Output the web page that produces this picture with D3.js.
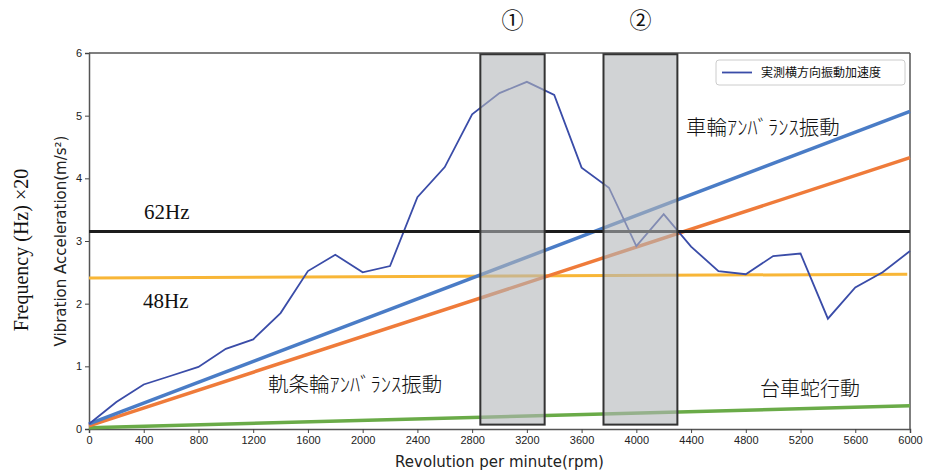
<!DOCTYPE html>
<html>
<head>
<meta charset="utf-8">
<script src="https://cdn.jsdelivr.net/npm/d3@7"></script>
<style>
  body { margin: 0; background: #fff; }
  svg { font-family: "DejaVu Sans", sans-serif; }
</style>
</head>
<body>
<svg id="chart" width="931" height="472"></svg>
<script>
// measured lateral vibration acceleration, every 200 rpm
const rpm = d3.range(0, 6001, 200);
const accel = [0.08, 0.43, 0.71, 0.85, 0.99, 1.28, 1.43, 1.85, 2.52, 2.78, 2.5, 2.6,
               3.7, 4.18, 5.02, 5.36, 5.54, 5.33, 4.17, 3.85, 2.92, 3.43, 2.91, 2.52,
               2.47, 2.76, 2.8, 1.76, 2.26, 2.5, 2.84];

// reference straight lines [rpm, value]
const wheelLine = [[0, 0.08], [6000, 5.07]];   // 車輪アンバランス振動
const railLine = [[0, 0.05], [6000, 4.33]];    // 軌条輪アンバランス振動
const huntLine = [[0, 0.02], [6000, 0.37]];    // 台車蛇行動
const hz62Line = [[0, 3.15], [6000, 3.15]];
const hz48Line = [[0, 2.41], [5980, 2.47]];

// shaded ranges
const bands = [{ label: "①", x0: 2860, x1: 3330 }, { label: "②", x0: 3760, x1: 4300 }];

const xTicks = d3.range(0, 6001, 400);
const yTicks = [0, 1, 2, 3, 4, 5, 6];

const svg = d3.select("#chart");
const margin = { top: 53, right: 21, bottom: 43, left: 89 };
const width = +svg.attr("width") - margin.left - margin.right;
const height = +svg.attr("height") - margin.top - margin.bottom;

const x = d3.scaleLinear().domain([0, 6000]).range([0, width]);
const y = d3.scaleLinear().domain([0, 6]).range([height, 0]);

const chart = svg.append("g")
    .attr("transform", `translate(${margin.left},${margin.top})`);

const line = d3.line().x(d => x(d[0])).y(d => y(d[1]));

// Axes
const xAxis = chart.append("g")
    .attr("transform", `translate(0,${height})`)
    .call(d3.axisBottom(x).tickValues(xTicks).tickSize(4).tickPadding(3).tickFormat(d3.format("d")));
const yAxis = chart.append("g")
    .call(d3.axisLeft(y).tickValues(yTicks).tickSize(4).tickPadding(3).tickFormat(d3.format("d")));
[xAxis, yAxis].forEach(a => {
  a.selectAll("text").style("font-size", "11px").attr("fill", "#222");
  a.selectAll("line").attr("stroke", "#444");
  a.select(".domain").attr("stroke", "#555").attr("stroke-width", 1.5);
});

// top and right spines
chart.append("line").attr("x1", 0).attr("x2", width).attr("y1", 0).attr("y2", 0)
    .attr("stroke", "#555").attr("stroke-width", 1.5);
chart.append("line").attr("x1", width).attr("x2", width).attr("y1", 0).attr("y2", height)
    .attr("stroke", "#555").attr("stroke-width", 1.5);

// Lines
chart.append("path").datum(huntLine).attr("d", line)
    .attr("fill", "none").attr("stroke", "#6aab48").attr("stroke-width", 3.5);
chart.append("path").datum(hz48Line).attr("d", line)
    .attr("fill", "none").attr("stroke", "#f8b637").attr("stroke-width", 3);
chart.append("path").datum(railLine).attr("d", line)
    .attr("fill", "none").attr("stroke", "#ef7b3a").attr("stroke-width", 3.5);
chart.append("path").datum(wheelLine).attr("d", line)
    .attr("fill", "none").attr("stroke", "#4a7cc6").attr("stroke-width", 3.5);
chart.append("path").datum(rpm.map((r, i) => [r, accel[i]])).attr("d", line)
    .attr("fill", "none").attr("stroke", "#3a4ca8").attr("stroke-width", 1.8);
chart.append("path").datum(hz62Line).attr("d", line)
    .attr("fill", "none").attr("stroke", "#1c1c1c").attr("stroke-width", 3);

// Shaded bands
chart.selectAll("rect.band")
    .data(bands)
    .enter()
    .append("rect")
    .attr("class", "band")
    .attr("x", d => x(d.x0))
    .attr("width", d => x(d.x1) - x(d.x0))
    .attr("y", y(5.98))
    .attr("height", y(0.07) - y(5.98))
    .attr("fill", "#b3b5b9")
    .attr("fill-opacity", 0.6)
    .attr("stroke", "#333")
    .attr("stroke-width", 2);

svg.selectAll("text.band-label")
    .data(bands)
    .enter()
    .append("text")
    .attr("class", "band-label")
    .attr("x", d => margin.left + (x(d.x0) + x(d.x1)) / 2)
    .attr("y", 28)
    .attr("text-anchor", "middle")
    .style("font-family", "'Noto Sans CJK JP', sans-serif")
    .style("font-size", "22px")
    .attr("fill", "#111")
    .text(d => d.label);

// Annotations
const serif = "'Liberation Serif', 'DejaVu Serif', serif";
const jp = "'Noto Sans CJK JP', sans-serif";
const notes = [
  { t: "62Hz", x: 144, y: 219, f: serif, s: 21 },
  { t: "48Hz", x: 143, y: 308, f: serif, s: 21 },
  { t: "車輪ｱﾝﾊﾞﾗﾝｽ振動", x: 686, y: 135, f: jp, s: 20.5 },
  { t: "軌条輪ｱﾝﾊﾞﾗﾝｽ振動", x: 268, y: 392, f: jp, s: 20.5 },
  { t: "台車蛇行動", x: 760, y: 396, f: jp, s: 20 }
];
svg.selectAll("text.note")
    .data(notes)
    .enter()
    .append("text")
    .attr("class", "note")
    .attr("x", d => d.x)
    .attr("y", d => d.y)
    .style("font-family", d => d.f)
    .style("font-size", d => d.s + "px")
    .style("font-weight", 300)
    .attr("fill", "#111")
    .text(d => d.t);

// Legend
const legend = svg.append("g").attr("transform", "translate(716,60)");
legend.append("rect").attr("width", 189).attr("height", 25).attr("rx", 3)
    .attr("fill", "#fff").attr("stroke", "#ccc");
legend.append("line").attr("x1", 6).attr("x2", 36).attr("y1", 12.5).attr("y2", 12.5)
    .attr("stroke", "#3a4ca8").attr("stroke-width", 1.8);
legend.append("text").attr("x", 45).attr("y", 17)
    .style("font-family", jp).style("font-size", "12px").attr("fill", "#111")
    .text("実測横方向振動加速度");

// Axis titles
svg.append("text")
    .attr("x", margin.left + width / 2)
    .attr("y", 467)
    .attr("text-anchor", "middle")
    .style("font-size", "15px")
    .attr("fill", "#222")
    .text("Revolution per minute(rpm)");

svg.append("text")
    .attr("transform", `translate(66,${margin.top + height / 2}) rotate(-90)`)
    .attr("text-anchor", "middle")
    .style("font-size", "15px")
    .attr("fill", "#222")
    .text("Vibration Acceleration(m/s²)");

svg.append("text")
    .attr("transform", "translate(28,250) rotate(-90)")
    .attr("text-anchor", "middle")
    .style("font-family", serif)
    .style("font-size", "20px")
    .attr("fill", "#111")
    .text("Frequency (Hz) ×20");
</script>
</body>
</html>
